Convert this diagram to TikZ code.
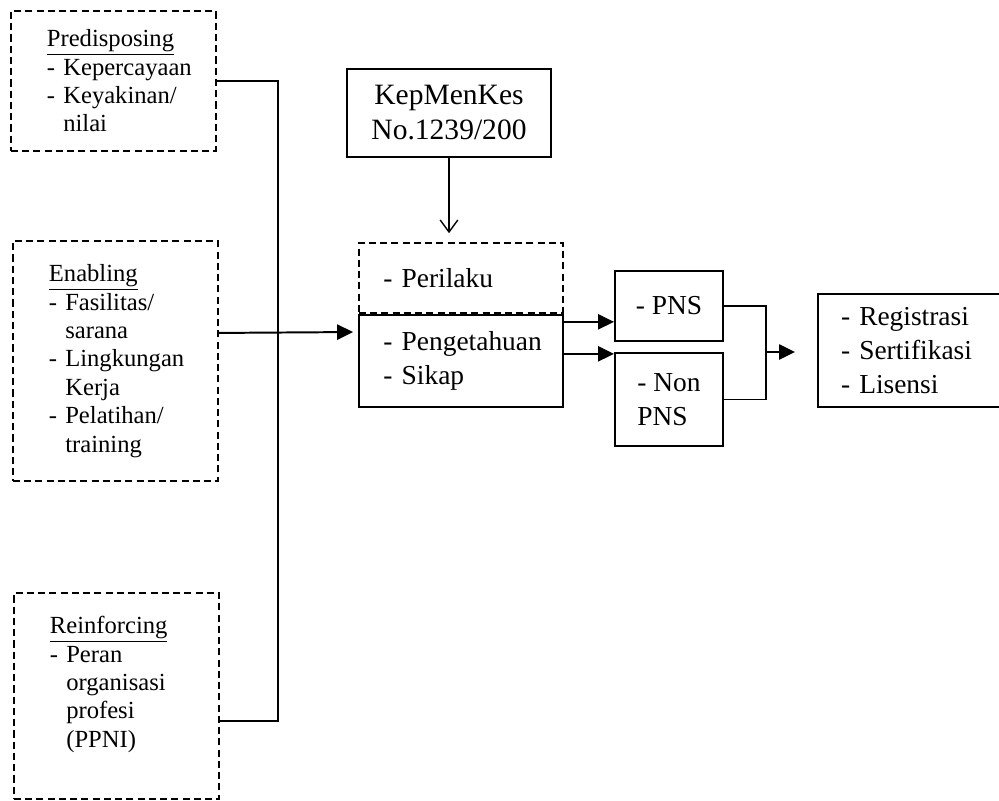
\documentclass[tikz,border=0pt]{standalone}
\usepackage{fontspec}
\setmainfont{Liberation Serif}
\usetikzlibrary{positioning,arrows.meta}
\hyphenpenalty=10000
\exhyphenpenalty=10000
\newcommand{\hurufkiri}{\fontsize{17.5}{20.2}\selectfont}
\newcommand{\hurufkanan}{\fontsize{19.5}{24}\selectfont}
\newcommand{\lanjut}{\phantom{-~}}

\begin{document}
\begin{tikzpicture}[
      x=0.025cm, y=-0.025cm,
      b/.style={draw, line width=1.4pt, inner sep=0pt, anchor=north west},
      kt/.style={b, font=\hurufkanan},
      pt/.style={b, line width=1.3pt, dash pattern=on 5pt off 3pt},
      kr/.style={pt, font=\hurufkiri, align=left, text width=3.325cm,
                 minimum width=5.125cm},
      f/.style={-{Triangle[length=4mm, width=3.8mm]}, line width=1.4pt},
      g/.style={line width=1.4pt},
      fv/.style={-{Straight Barb[length=3mm, width=4.4mm]}, line width=1pt},
    ]
    \useasboundingbox (0,0) rectangle (999,801);
    \clip (0,0) rectangle (999,801);

    % =============== NODES ===============================================
    % --- Kolom kiri: faktor (kotak putus-putus) ---
    \node[kr, minimum height=3.5cm] (pred) at (10,10)
      {\underline{Predisposing}\\-~Kepercayaan\\-~Keyakinan/\\\lanjut nilai};
    \node[kr, minimum height=6cm] (enab) at (12,240)
      {\underline{Enabling}\\-~Fasilitas/\\\lanjut sarana\\-~Lingkungan\\\lanjut Kerja\\
       -~Pelatihan/\\\lanjut training};
    \node[kr, minimum height=5.15cm] (reinf) at (13,592)
      {\underline{Reinforcing}\\-~Peran\\\lanjut organisasi\\\lanjut profesi\\\lanjut (PPNI)\\\mbox{}};

    % --- Tengah: regulasi dan perawat ---
    \node[kt, font=\fontsize{21}{24.9}\selectfont, align=center,
          minimum width=5.1cm, minimum height=2.2cm] (kep) at (346,68)
      {KepMenKes\\No.1239/200};
    \node[pt, font=\hurufkanan, text width=3.875cm, align=left,
          minimum width=5.1cm, minimum height=1.75cm] (peril) at (358,242)
      {-~Perilaku};
    \node[kt, text width=3.875cm, align=left, minimum width=5.1cm,
          minimum height=2.3cm, below=0pt of peril] (penget)
      {-~Pengetahuan\\-~Sikap};

    % --- Status kepegawaian ---
    \node[kt, minimum width=2.7cm, minimum height=1.75cm] (pns) at (614,270) {- PNS};
    \node[kt, align=left, minimum width=2.7cm, minimum height=2.325cm,
          below=0.25cm of pns] (nonpns) {- Non\\PNS};

    % --- Hasil (terpotong di tepi kanan) ---
    \node[kt, text width=3.725cm, align=left, minimum width=4.875cm,
          minimum height=2.825cm] (reg) at (817,293)
      {-~Registrasi\\-~Sertifikasi\\-~Lisensi};

    % =============== FLECHAS =============================================
    \coordinate (bus) at (278,332);
    \coordinate (gabung) at (766,352);

    % --- Tiga faktor ke satu garis ---
    \draw[g] (pred.east) -| (bus);
    \draw[g] ([yshift=-0.625cm]reinf.east) -| (bus);
    \draw[f, shorten >=0.12cm] ([yshift=0.7cm]enab.east) -- (penget.west |- bus);

    % --- Regulasi ke perilaku ---
    \draw[fv, shorten >=0.22cm] (kep.south) -- (kep.south |- peril.north);

    % --- Ke PNS / Non PNS ---
    \draw[f] ([yshift=0.975cm]penget.east) -- ([yshift=0.975cm]penget.east -| pns.west);
    \draw[f] ([yshift=0.175cm]penget.east) -- ([yshift=0.175cm]penget.east -| nonpns.west);

    % --- Gabung ke hasil ---
    \draw[g] (pns.east) -| (gabung) |- (nonpns.east);
    \draw[f, shorten >=0.55cm] (gabung) -- (reg.west |- gabung);
  \end{tikzpicture}
\end{document}
